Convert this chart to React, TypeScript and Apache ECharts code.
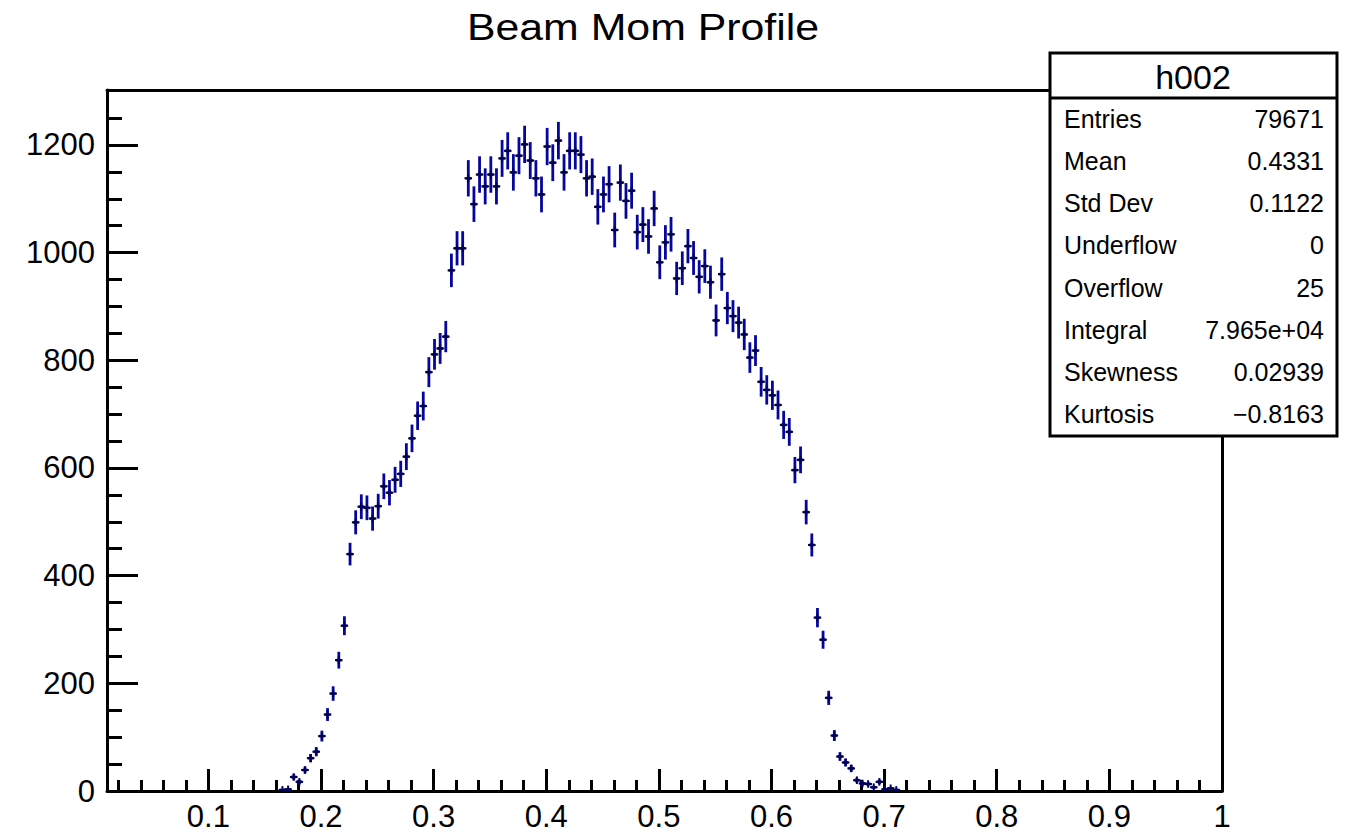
import React, { useEffect, useRef } from "react";
import * as echarts from "echarts";

// Histogram definition: 198 bins of width 0.005; first bin edge
const BIN_LOW = 0.0133;
const BIN_WIDTH = 0.005;

const leadingEmpty: number[] = [
  0, 0, 0, 0, 0, 0, 0, 0, 0, 0, 0, 0, 0, 0, 0, 0, 0, 0, 0, 0, 0, 0, 0, 0, 0, 0, 0, 0, 0, 0,
];
const risingCounts: number[] = [
  2, 3, 26, 17, 39, 61, 73, 102, 142, 181, 243, 307, 440, 499, 528, 526, 506, 529, 566, 554,
  578, 589, 621, 655, 697, 715, 778, 811, 822, 844, 967, 1008, 1008, 1138, 1090, 1145, 1123, 1145, 1123, 1175,
];
const peakCounts: number[] = [
  1189, 1149, 1180, 1201, 1171, 1138, 1108, 1197, 1167, 1208, 1149, 1189, 1189, 1182, 1138, 1141, 1085, 1108, 1127, 1042,
  1130, 1096, 1115, 1038, 1052, 1030, 1082, 982, 1019, 1034, 952, 971,
];
const fallingCounts: number[] = [
  1012, 990, 955, 975, 945, 874, 960, 897, 882, 870, 848, 805, 818, 760, 745, 735, 717, 680, 667, 596,
  615, 518, 457, 322, 281, 173, 103, 64, 53, 42, 20, 14, 13, 7, 17, 3, 5, 2,
];
const trailingEmpty: number[] = [
  0, 0, 0, 0, 0, 0, 0, 0, 0, 0, 0, 0, 0, 0, 0, 0, 0, 0, 0, 0, 0, 0, 0, 0, 0, 0, 0, 0, 0, 0,
  0, 0, 0, 0, 0, 0, 0, 0, 0, 0, 0, 0, 0, 0, 0, 0, 0, 0, 0, 0, 0, 0, 0, 0, 0, 0, 0, 0,
];

const xMajorTicks: number[] = [0.1, 0.2, 0.3, 0.4, 0.5, 0.6, 0.7, 0.8, 0.9, 1];
const xMinorTicks: number[] = [
  0.02, 0.04, 0.06, 0.08, 0.12, 0.14, 0.16, 0.18, 0.22, 0.24, 0.26, 0.28, 0.32, 0.34, 0.36, 0.38,
  0.42, 0.44, 0.46, 0.48, 0.52, 0.54, 0.56, 0.58, 0.62, 0.64, 0.66, 0.68, 0.72, 0.74, 0.76, 0.78,
  0.82, 0.84, 0.86, 0.88, 0.92, 0.94, 0.96, 0.98,
];
const yMajorTicks: number[] = [0, 200, 400, 600, 800, 1000, 1200];
const yMinorTicks: number[] = [
  50, 100, 150, 250, 300, 350, 450, 500, 550, 650, 700, 750, 850, 900, 950, 1050, 1100, 1150, 1250,
];

const titleText = "Beam Mom Profile";
const statsName = "h002";
const statLabels: string[] = ["Entries", "Mean", "Std Dev", "Underflow", "Overflow", "Integral", "Skewness", "Kurtosis"];
const statValues: string[] = ["79671", "0.4331", "0.1122", "0", "25", "7.965e+04", "0.02939", "\u22120.8163"];

const counts: number[] = [...leadingEmpty, ...risingCounts, ...peakCounts, ...fallingCounts, ...trailingEmpty];

const FONT = "'Liberation Sans', Arial, Helvetica, sans-serif";

export default function App() {
  const ref = useRef<HTMLDivElement>(null);

  useEffect(() => {
    if (!ref.current) return;
    const chart = echarts.init(ref.current, null, { renderer: "svg" });

    const points: number[][] = [];
    counts.forEach((c, i) => {
      if (c > 0) points.push([BIN_LOW + BIN_WIDTH * (i + 0.5), c]);
    });

    const gridLeft = 107;
    const gridTop = 90;
    const gridRight = 1346 - 1222;
    const gridBottom = 833 - 791;

    const statRows: any[] = [];
    statLabels.forEach((lab, i) => {
      const y = 119 + i * 42.14;
      statRows.push({
        type: "text",
        z: 102,
        x: 1064,
        y,
        style: { text: lab, fontSize: 25, fontFamily: FONT, fill: "#000", textAlign: "left", textVerticalAlign: "middle" },
      });
      statRows.push({
        type: "text",
        z: 102,
        x: 1324,
        y,
        style: { text: statValues[i], fontSize: 25, fontFamily: FONT, fill: "#000", textAlign: "right", textVerticalAlign: "middle" },
      });
    });

    const option: any = {
      animation: false,
      backgroundColor: "#ffffff",
      grid: { left: gridLeft, top: gridTop, right: gridRight, bottom: gridBottom, containLabel: false },
      xAxis: [
        {
          type: "value",
          min: 0.01,
          max: 1,
          position: "bottom",
          axisLine: { show: true, onZero: false, lineStyle: { color: "#000", width: 3 } },
          axisTick: { show: true, inside: true, length: 22, customValues: xMajorTicks, lineStyle: { color: "#000", width: 3 } },
          axisLabel: { show: true, customValues: xMajorTicks, margin: 10, fontSize: 31, fontFamily: FONT, color: "#000", formatter: (v: number) => String(v) },
          splitLine: { show: false },
        },
        {
          type: "value",
          min: 0.01,
          max: 1,
          position: "bottom",
          axisLine: { show: false },
          axisTick: { show: true, inside: true, length: 11, customValues: xMinorTicks, lineStyle: { color: "#000", width: 3 } },
          axisLabel: { show: false },
          splitLine: { show: false },
        },
        {
          type: "value",
          min: 0.01,
          max: 1,
          position: "top",
          axisLine: { show: true, onZero: false, lineStyle: { color: "#000", width: 3 } },
          axisTick: { show: false },
          axisLabel: { show: false },
          splitLine: { show: false },
        },
      ],
      yAxis: [
        {
          type: "value",
          min: 0,
          max: 1302,
          position: "left",
          axisLine: { show: true, onZero: false, lineStyle: { color: "#000", width: 3 } },
          axisTick: { show: true, inside: true, length: 31, customValues: yMajorTicks, lineStyle: { color: "#000", width: 3 } },
          axisLabel: { show: true, customValues: yMajorTicks, margin: 12, fontSize: 31, fontFamily: FONT, color: "#000", formatter: (v: number) => String(v) },
          splitLine: { show: false },
        },
        {
          type: "value",
          min: 0,
          max: 1302,
          position: "left",
          axisLine: { show: false },
          axisTick: { show: true, inside: true, length: 15, customValues: yMinorTicks, lineStyle: { color: "#000", width: 3 } },
          axisLabel: { show: false },
          splitLine: { show: false },
        },
        {
          type: "value",
          min: 0,
          max: 1302,
          position: "right",
          axisLine: { show: true, onZero: false, lineStyle: { color: "#000", width: 3 } },
          axisTick: { show: false },
          axisLabel: { show: false },
          splitLine: { show: false },
        },
      ],
      series: [
        {
          type: "custom",
          xAxisIndex: 0,
          yAxisIndex: 0,
          clip: true,
          encode: { x: 0, y: 1 },
          data: points,
          renderItem: (params: any, api: any) => {
            const x = api.value(0);
            const y = api.value(1);
            const e = Math.sqrt(y);
            const pC = api.coord([x, y]);
            const pL = api.coord([x - BIN_WIDTH / 2, y]);
            const pR = api.coord([x + BIN_WIDTH / 2, y]);
            const pT = api.coord([x, y + e]);
            const pB = api.coord([x, Math.max(0, y - e)]);
            const m = 3.8;
            return {
              type: "group",
              children: [
                {
                  type: "line",
                  shape: { x1: pT[0], y1: pT[1], x2: pB[0], y2: pB[1] },
                  style: { stroke: "#0505a0", lineWidth: 2.8 },
                },
                {
                  type: "line",
                  shape: { x1: pL[0], y1: pL[1], x2: pR[0], y2: pR[1] },
                  style: { stroke: "#0505a0", lineWidth: 2.6 },
                },
                {
                  type: "line",
                  shape: { x1: pC[0] - m, y1: pC[1], x2: pC[0] + m, y2: pC[1] },
                  style: { stroke: "#000040", lineWidth: 2 },
                },
                {
                  type: "line",
                  shape: { x1: pC[0], y1: pC[1] - m, x2: pC[0], y2: pC[1] + m },
                  style: { stroke: "#000060", lineWidth: 2 },
                },
              ],
            };
          },
        },
      ],
      graphic: [
        {
          type: "text",
          x: 643,
          y: 27,
          scaleX: 1.19,
          style: { text: titleText, fontSize: 36, fontFamily: FONT, fill: "#000", textAlign: "center", textVerticalAlign: "middle" },
        },
        {
          type: "rect",
          z: 100,
          shape: { x: 1050, y: 53, width: 287, height: 383 },
          style: { fill: "#ffffff", stroke: "#000", lineWidth: 3 },
        },
        {
          type: "line",
          z: 101,
          shape: { x1: 1050, y1: 98, x2: 1337, y2: 98 },
          style: { stroke: "#000", lineWidth: 3 },
        },
        {
          type: "text",
          z: 102,
          x: 1193,
          y: 77,
          style: { text: statsName, fontSize: 34, fontFamily: FONT, fill: "#000", textAlign: "center", textVerticalAlign: "middle" },
        },
        ...statRows,
      ],
    };

    chart.setOption(option);
    return () => {
      chart.dispose();
    };
  }, []);

  return <div ref={ref} style={{ position: "fixed", left: 0, top: 0, width: 1346, height: 833, background: "#fff" }} />;
}
